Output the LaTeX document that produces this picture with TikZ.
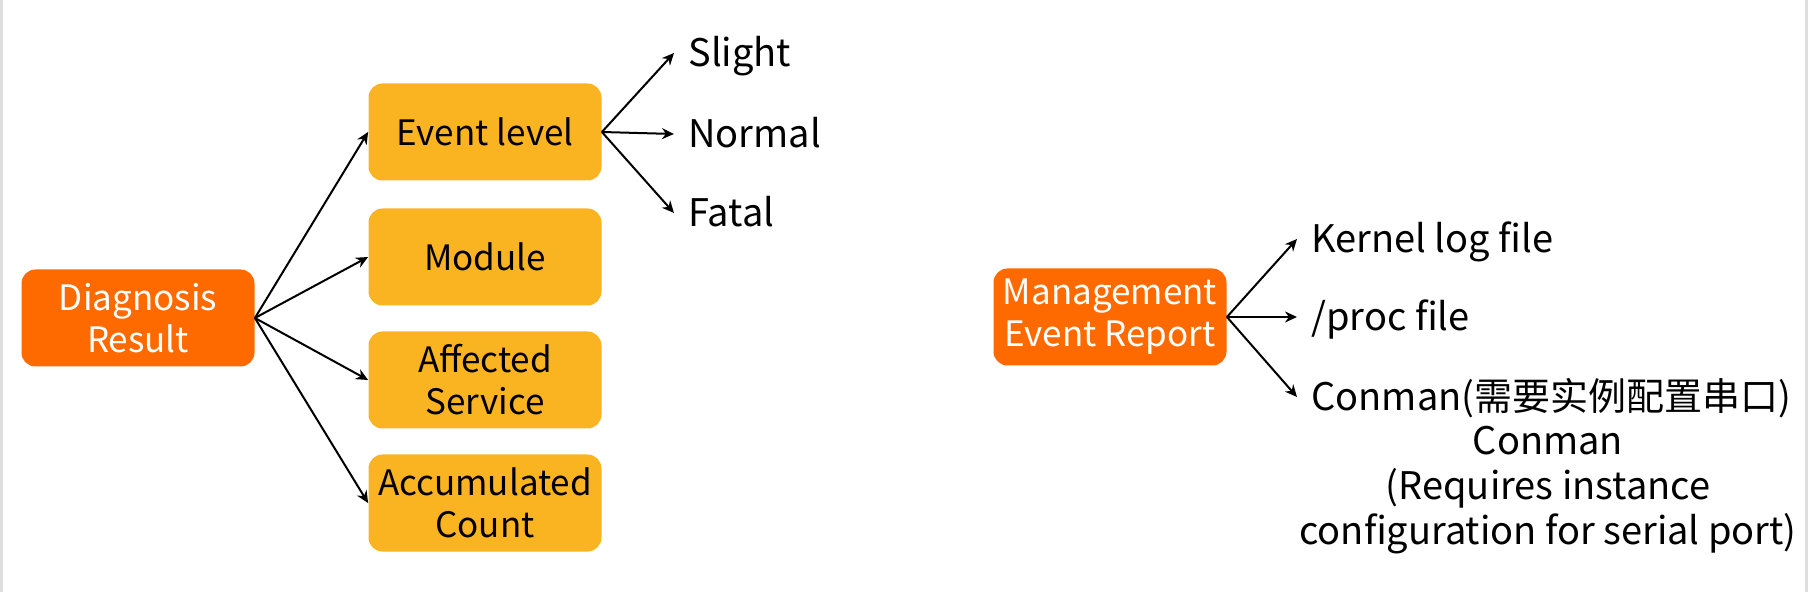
\documentclass[tikz,border=0pt]{standalone}
\usepackage{fontspec}
\setmainfont{Noto Sans CJK SC}
\usetikzlibrary{arrows.meta}
\definecolor{orangebox}{RGB}{255,106,0}
\definecolor{yellowbox}{RGB}{251,180,33}
\definecolor{edgegray}{RGB}{222,222,222}
\begin{document}
\begin{tikzpicture}[x=0.5pt,y=-0.5pt,
  box/.style={rounded corners=7pt, minimum width=116.5pt, minimum height=48.5pt,
    inner sep=0pt, align=center, font=\fontsize{17.5}{21}\selectfont},
  root/.style={box, fill=orangebox, text=white},
  child/.style={box, fill=yellowbox, text=black},
  leaf/.style={anchor=west, inner sep=0pt, text height=13.5pt, text depth=0pt,
    font=\fontsize{19}{22.5}\selectfont},
  note/.style={anchor=north, inner sep=0pt, align=center,
    font=\fontsize{19}{22.5}\selectfont},
  arr/.style={-{Stealth[length=6pt,width=5.5pt]}, line width=1pt},
]
\path[use as bounding box] (0,0) rectangle (1808,592);
\fill[edgegray] (0,0) rectangle (3,592);
\fill[edgegray] (1805,0) rectangle (1808,592);

% left tree
\node[root]  (dr) at (138,318) {Diagnosis\\Result};
\node[child] (ev) at (485,132) {Event level};
\node[child] (mo) at (485,257) {Module};
\node[child] (af) at (485,380) {Affected\\Service};
\node[child] (ac) at (485,503) {Accumulated\\Count};

\node[leaf] (sl) at (688,53)  {Slight};
\node[leaf] (no) at (688,134) {Normal};
\node[leaf] (fa) at (688,213) {Fatal};

\foreach \t in {ev,mo,af,ac} \draw[arr] (dr.east) -- (\t.west);
\foreach \t in {sl,no,fa} \draw[arr] (ev.east) -- ([xshift=-7pt]\t.west);

% right tree
\node[root] (mg) at (1110,317) {Management\\Event Report};
\node[leaf] (kl) at (1311,239) {Kernel log file};
\node[leaf] (pf) at (1311,317) {/proc file};
\node[leaf] (cm) at (1311,397) {Conman(需要实例配置串口)};
\node[note] (cn) at (1548,426) {Conman\\(Requires instance\\configuration for serial port)};

\foreach \t in {kl,pf,cm} \draw[arr] (mg.east) -- ([xshift=-7pt]\t.west);
\end{tikzpicture}
\end{document}
